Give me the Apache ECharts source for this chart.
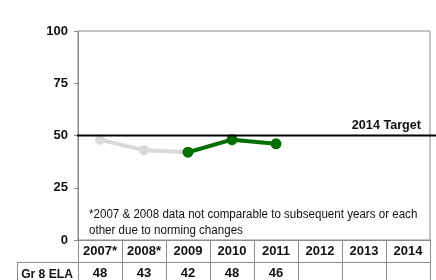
<!DOCTYPE html>
<html><head><meta charset="utf-8">
<script src="https://cdn.jsdelivr.net/npm/echarts@6/dist/echarts.min.js"></script>
<style>html,body{margin:0;padding:0;background:#fff}#c{width:436px;height:280px}</style>
</head><body><div id="c"></div>
<script>
const categories = ['2007*', '2008*', '2009', '2010', '2011', '2012', '2013', '2014'];
const rowLabel = 'Gr 8 ELA';
const tableValues = ['48', '43', '42', '48', '46', '', '', ''];
const grayValues = [48, 43, 42, null, null, null, null, null];
const greenValues = [null, null, 42, 48, 46, null, null, null];
const targetValue = 50;
const targetLabel = '2014 Target';
const note = '*2007 & 2008 data not comparable to subsequent years or each\nother due to norming changes';
const yTicks = [0, 25, 50, 75, 100];

const FONT = 'Liberation Sans, Arial, sans-serif';
const chart = echarts.init(document.getElementById('c'), null, {renderer: 'canvas'});
const lineCol = '#8c8c8c';
const option = {
  animation: false,
  grid: {left: 78, right: 6, top: 31, bottom: 38, show: true, borderColor: '#8c8c8c', borderWidth: 1},
  xAxis: [{
    type: 'category', data: categories, position: 'bottom', boundaryGap: true,
    axisLine: {show: true, lineStyle: {color: lineCol}},
    axisTick: {show: true, interval: 0, length: 22, lineStyle: {color: lineCol}},
    axisLabel: {interval: 0, margin: 5, fontFamily: FONT, fontWeight: 'bold', fontSize: 13, color: '#111'},
    splitLine: {show: false}
  }, {
    type: 'category', data: tableValues, position: 'bottom', offset: 22, boundaryGap: true,
    axisLine: {show: true, lineStyle: {color: lineCol}},
    axisTick: {show: true, interval: 0, length: 22, lineStyle: {color: lineCol}},
    axisLabel: {interval: 0, margin: 5, fontFamily: FONT, fontWeight: 'bold', fontSize: 13, color: '#111'},
    splitLine: {show: false}
  }],
  yAxis: {
    type: 'value', min: yTicks[0], max: yTicks[yTicks.length - 1], interval: 25,
    axisLine: {show: true, lineStyle: {color: lineCol}},
    axisTick: {show: true, length: 4, lineStyle: {color: lineCol}},
    axisLabel: {margin: 10, fontFamily: FONT, fontWeight: 'bold', fontSize: 13, color: '#111'},
    splitLine: {show: false}
  },
  series: [{
    type: 'line', data: grayValues, xAxisIndex: 0, symbol: 'circle', symbolSize: 10,
    lineStyle: {color: '#d9d9d9', width: 4}, itemStyle: {color: '#d9d9d9'}, z: 2
  }, {
    type: 'line', data: greenValues, xAxisIndex: 0, symbol: 'circle', symbolSize: 11,
    lineStyle: {color: '#006f00', width: 4}, itemStyle: {color: '#006f00'}, z: 3
  }]
};
chart.setOption(option);

const yT = chart.convertToPixel({yAxisIndex: 0}, targetValue);
const y0 = chart.convertToPixel({yAxisIndex: 0}, 0);
chart.setOption({
  graphic: [
    {type: 'line', shape: {x1: 77, y1: yT, x2: 436, y2: yT}, style: {stroke: '#000', lineWidth: 2}, z: 10},
    {type: 'text', x: 421, y: yT - 4, style: {text: targetLabel, font: 'bold 13px ' + FONT, fill: '#111', textAlign: 'right', textVerticalAlign: 'bottom'}, scaleX: 0.97, z: 10},
    {type: 'text', x: 89, y: 207, style: {text: note, font: '12px ' + FONT, fill: '#111', lineHeight: 16}, scaleX: 0.965, originX: 0, z: 10},
    {type: 'line', shape: {x1: 17, y1: y0 + 22.5, x2: 78, y2: y0 + 22.5}, style: {stroke: lineCol, lineWidth: 1}},
    {type: 'line', shape: {x1: 17.5, y1: y0 + 22, x2: 17.5, y2: 290}, style: {stroke: lineCol, lineWidth: 1}},
    {type: 'text', x: 47, y: y0 + 34, style: {text: rowLabel, font: 'bold 13px ' + FONT, fill: '#111', textAlign: 'center', textVerticalAlign: 'middle'}, scaleX: 0.93, originX: 0}
  ]
});
</script></body></html>
